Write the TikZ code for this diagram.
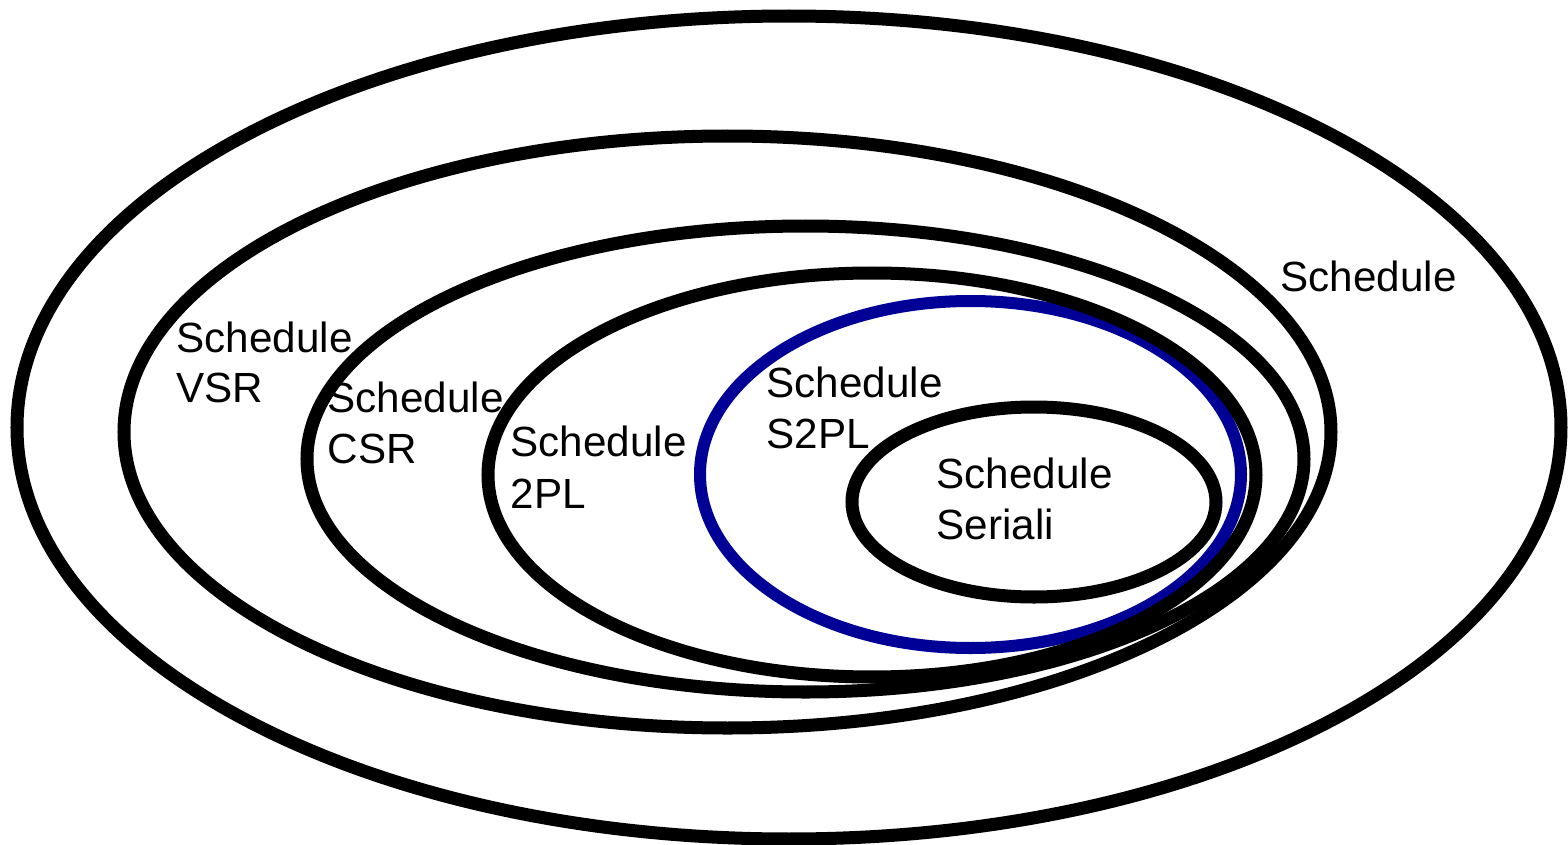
\documentclass[tikz,border=0pt]{standalone}
\usepackage{fontspec}
\setmainfont{Liberation Sans}
\definecolor{setblue}{RGB}{0,0,150}
\begin{document}
\begin{tikzpicture}[x=0.01cm,y=-0.01cm,
  setline/.style={line width=0.13cm},
  lbl/.style={anchor=base west,inner sep=0pt,font=\fontsize{12}{14.5}\selectfont}]
\useasboundingbox (0,0) rectangle (1568,845);
% nested sets
\draw[setline] (789,427.5) ellipse [x radius=772, y radius=411.5];
\draw[setline] (727.5,432) ellipse [x radius=603.5, y radius=296];
\draw[setline] (805.5,459) ellipse [x radius=498.5, y radius=233];
\draw[setline,setblue,line width=0.12cm] (970.5,474.5) ellipse [x radius=270.5, y radius=173.5];
\draw[setline] (872,475) ellipse [x radius=384, y radius=202];
\draw[setline] (1034,502) ellipse [x radius=182, y radius=95];
% labels
\node[lbl] (all) at (1280,291) {Schedule};
\node[lbl] (vsr1) at (176,352) {Schedule};
\node[lbl] (vsr2) at (176,402) {VSR};
\node[lbl] (csr1) at (327,412) {Schedule};
\node[lbl] (csr2) at (327,463) {CSR};
\node[lbl] (tpl1) at (510,456) {Schedule};
\node[lbl] (tpl2) at (510,508) {2PL};
\node[lbl] (stpl1) at (766,397) {Schedule};
\node[lbl] (stpl2) at (766,448) {S2PL};
\node[lbl] (ser1) at (936,488) {Schedule};
\node[lbl] (ser2) at (936,539) {Seriali};
\end{tikzpicture}
\end{document}
